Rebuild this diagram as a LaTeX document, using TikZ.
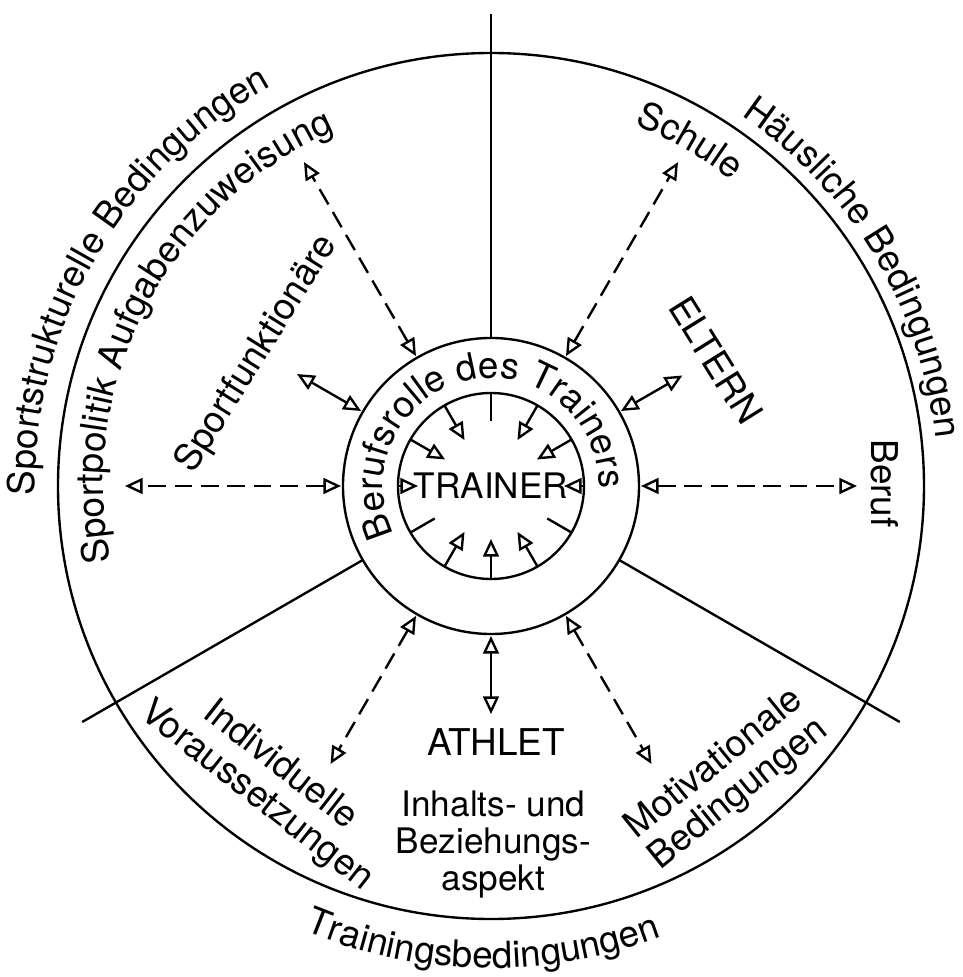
\documentclass[tikz,border=0pt]{standalone}
\usepackage{fontspec}
\setmainfont{TeX Gyre Heros}
\usetikzlibrary{arrows.meta, decorations.text}
\newcommand{\curvefont}{\fontsize{21}{22}\selectfont}

\begin{document}
\begin{tikzpicture}[line width=1.35pt,
  >={Triangle[open, length=10pt, width=9pt]},
  dashline/.style={dash pattern=on 10pt off 5pt},
  solidline/.style={},
  lbl/.style={font=\fontsize{21}{22}\selectfont, inner sep=0pt},
  curved/.style={decorate, decoration={text along path, text align=center, text={|\curvefont|#1}}}]
 \useasboundingbox (-9.82,-9.82) rectangle (9.44,9.72);
 % circles
 \draw (0,0) circle[radius=8.66];
 \draw (0,0) circle[radius=2.96];
 \draw (0,0) circle[radius=1.86];
 % sector borders
 \foreach \A in {90,210,330} {
   \draw (\A:2.96) coordinate(b\A) -- (\A:9.44) coordinate(e\A);
   \draw (\A:1.86) coordinate(t\A) -- (\A:1.3) coordinate(u\A);
 }
 % arrows into the inner circle
 \foreach \A/\R in {0/1.46, 30/1.06, 60/1.06, 120/1.06, 150/1.06, 180/1.46, 240/1.06, 270/1.06, 300/1.06}
   \draw[->] (\A:1.86) coordinate(c\A) -- (\A:\R) coordinate(d\A);
 % arrows between ring and outer fields
 \foreach \A/\R/\S in {0/7.32/dashline, 60/7.48/dashline, 120/7.48/dashline, 180/7.32/dashline,
   240/6.42/dashline, 300/6.42/dashline, 30/4.42/solidline, 150/4.48/solidline, 270/4.56/solidline}
   \draw[<->,\S] (\A:3.0) coordinate(r\A) -- (\A:\R) coordinate(o\A);
 % labels
 \node[lbl, font=\fontsize{20}{21}\selectfont] (trainer) at (0,0) {TRAINER};
 \node[lbl] (athlet) at (0.1,-5.13) {ATHLET};
 \node[lbl, align=center, font=\fontsize{20}{21}\selectfont] (aspekt) at (0.05,-7.17) {Inhalts- und\\Beziehungs-\\aspekt};
 \node[lbl, rotate=58] (funktionaere) at (-4.67,2.64) {Sportfunktionäre};
 \node[lbl, rotate=-58] (eltern) at (4.5,2.52) {ELTERN};
 \node[lbl, rotate=-90] (beruf) at (7.88,0.05) {Beruf};
 \node[lbl, rotate=-38, align=center] (individuell) at (-4.46,-5.9) {Individuelle\\Voraussetzungen};
 \node[lbl, rotate=39, align=center] (motivation) at (4.72,-5.87) {Motivationale\\Bedingungen};
 % curved labels
 \path[curved=Berufsrolle des Trainers] (215:2.16) arc[start angle=215, end angle=-10, radius=2.16];
 \path[curved=Sportstrukturelle Bedingungen] (190:9.12) arc[start angle=190, end angle=110, radius=9.12];
 \path[curved=Sportpolitik Aufgabenzuweisung] (195:7.76) arc[start angle=195, end angle=110, radius=7.76];
 \path[curved=Schule] (75:7.78) arc[start angle=75, end angle=45, radius=7.78];
 \path[curved=Häusliche Bedingungen] (60:8.94) arc[start angle=60, end angle=2, radius=8.94];
 \path[curved=Trainingsbedingungen] (245:9.64) arc[start angle=245, end angle=293, radius=9.64];
\end{tikzpicture}
\end{document}
